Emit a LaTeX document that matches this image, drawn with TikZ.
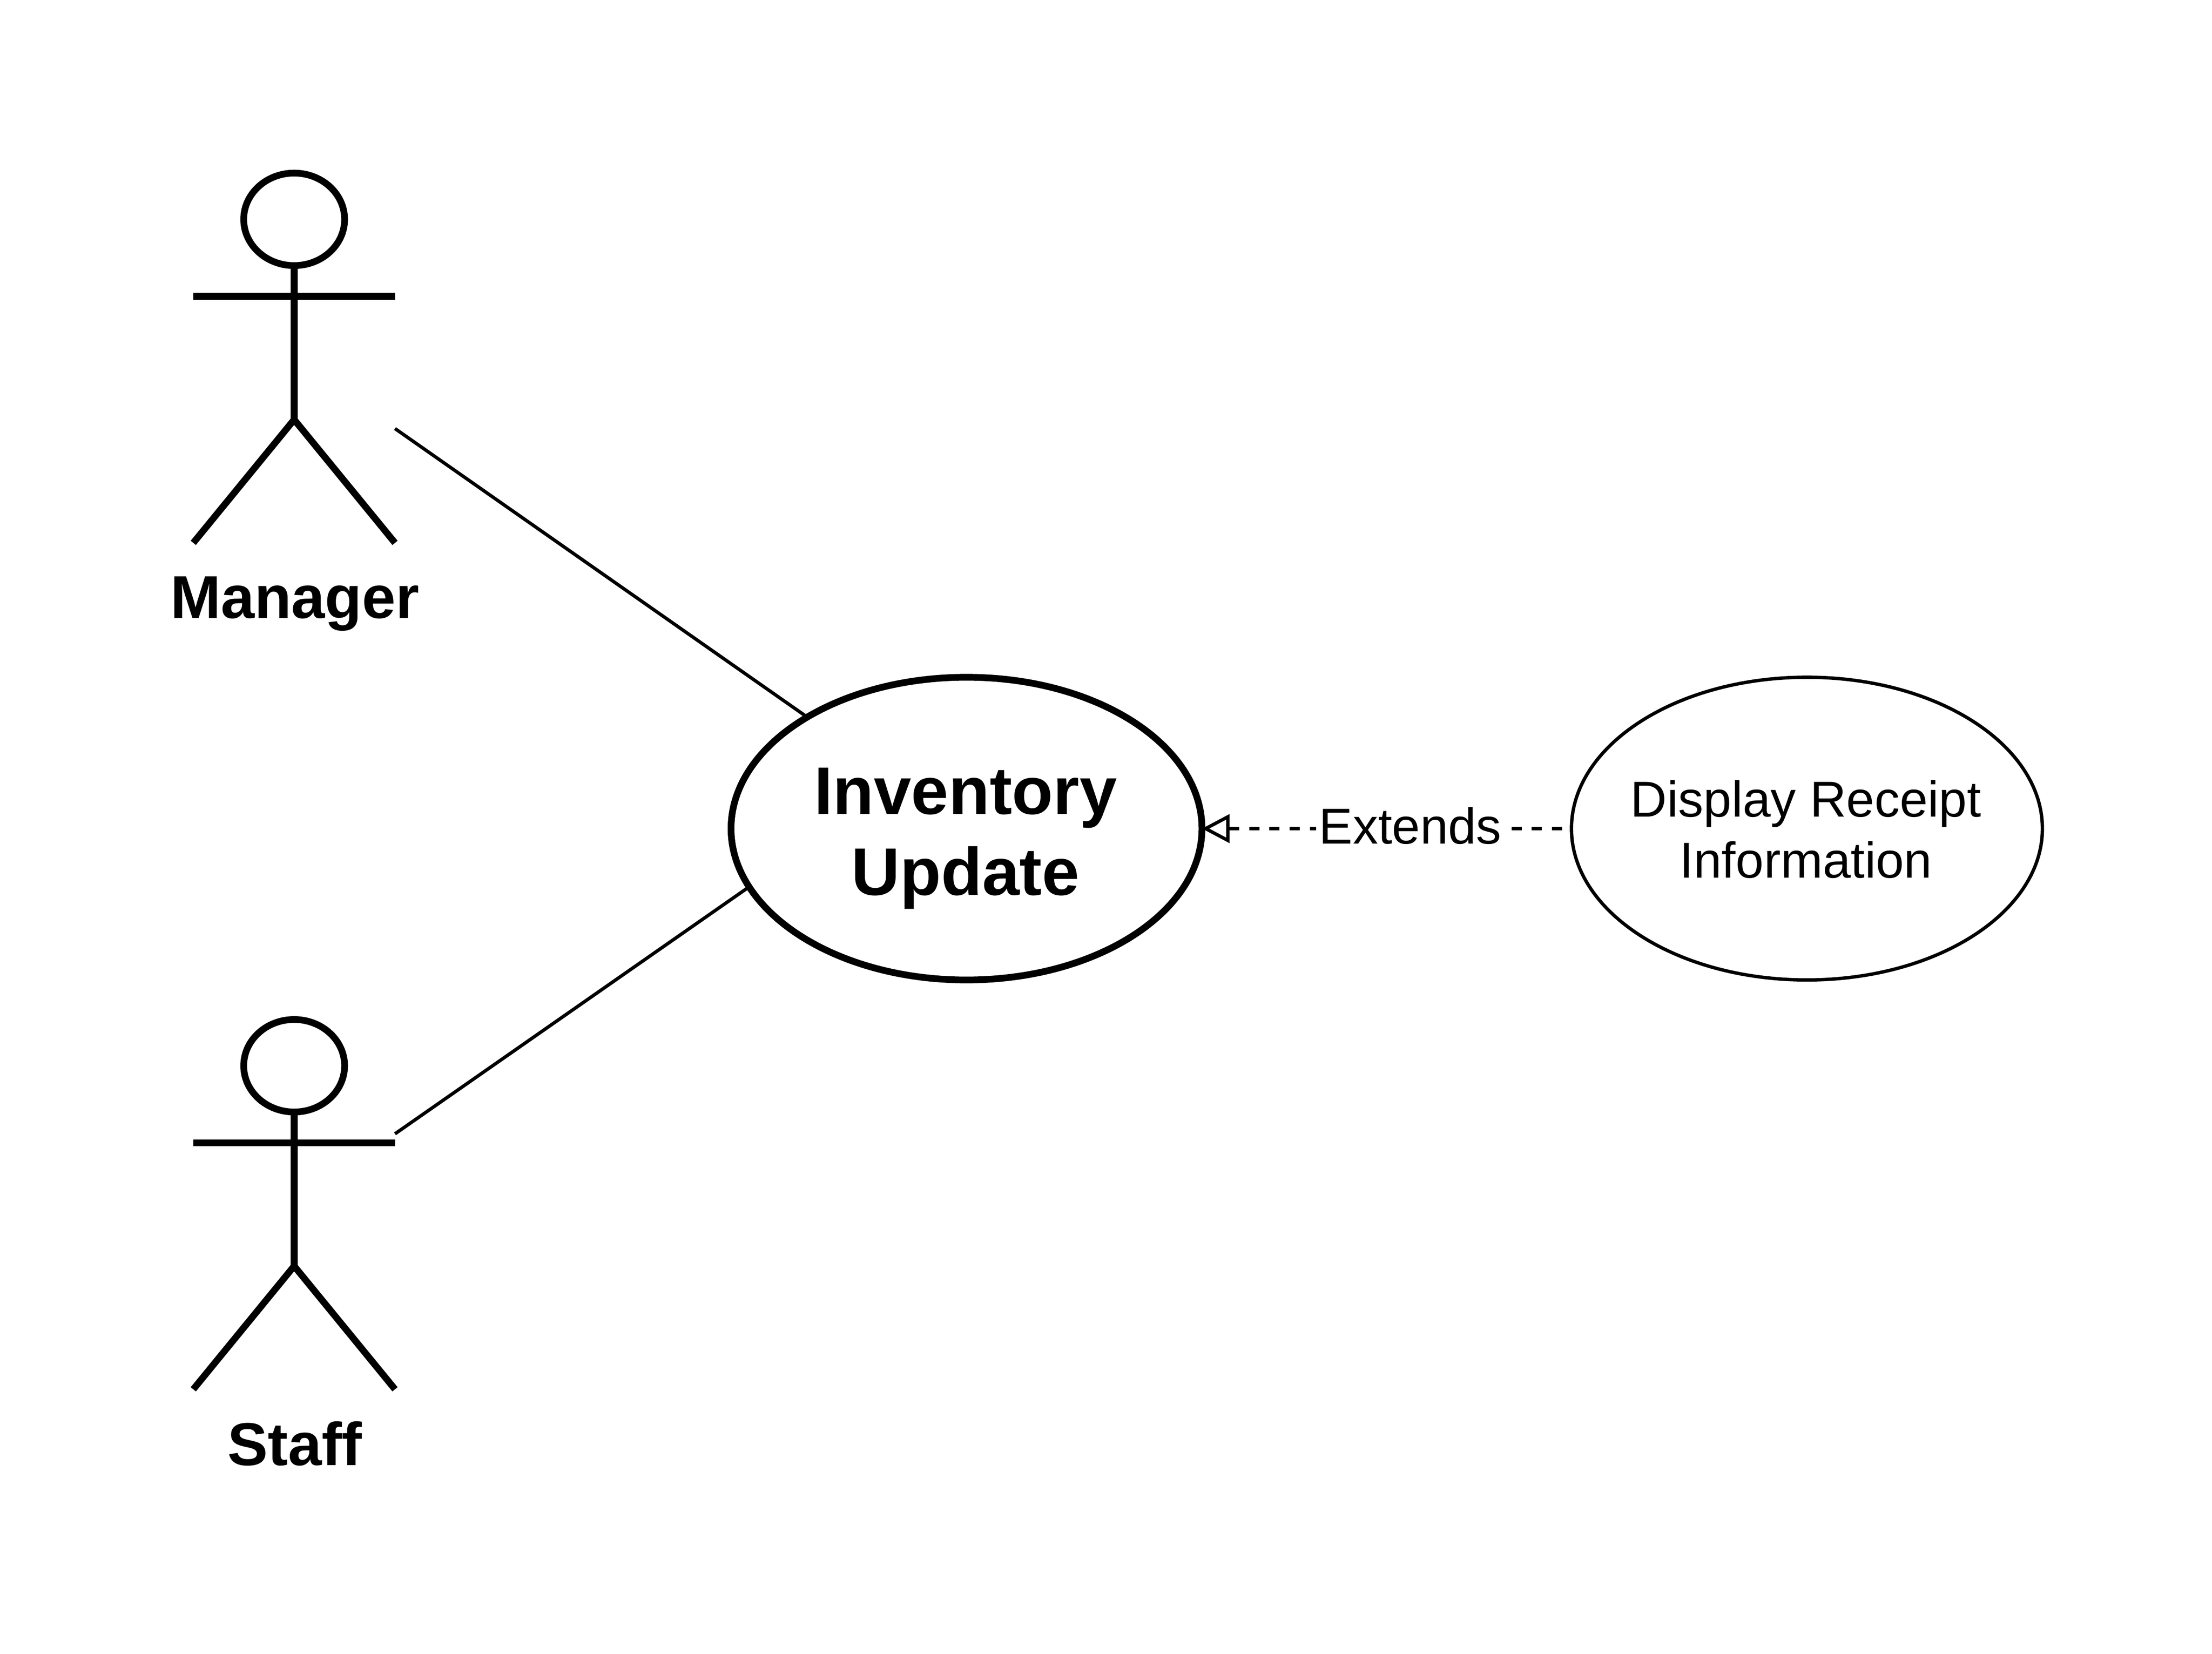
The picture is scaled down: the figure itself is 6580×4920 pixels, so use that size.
\documentclass[tikz,border=0pt]{standalone}
\usepackage{fontspec}
\setmainfont{Liberation Sans}
\usetikzlibrary{arrows.meta,shapes.geometric}
\newcommand{\caselabel}[3]{\makebox[0pt][c]{\smash{\raisebox{#1}{\begin{tabular}[t]{@{}c@{}}#2\\#3\end{tabular}}}}}
\tikzset{
  usecase/.style={ellipse,draw=black,fill=white,inner sep=0pt,outer sep=0pt,minimum width=14cm,minimum height=9cm},
  mainfont/.style={font=\fontsize{56.9}{68.6}\selectfont\bfseries},
  subfont/.style={font=\fontsize{42.68}{51.5}\selectfont},
  thickline/.style={line width=0.2cm,draw=black},
  thinline/.style={line width=0.1cm,draw=black},
  head/.style={ellipse,draw=black,line width=0.2cm,fill=white,inner sep=0pt,outer sep=0pt,minimum width=3cm,minimum height=2.75cm},
  actorname/.style={anchor=base,inner sep=0pt,font=\fontsize{51.2}{61}\selectfont\bfseries},
  extendline/.style={thinline,dash pattern=on 0.3cm off 0.3cm,dash phase=0.32cm,-{Triangle[open,length=0.82cm,width=0.84cm]}},
  extendlabel/.style={subfont,fill=white,inner xsep=0.09cm,inner ysep=0pt,text height=1.1cm,text depth=0.2cm}
}
\begin{document}
\begin{tikzpicture}[x=0.01cm,y=-0.01cm]
\useasboundingbox[fill=white] (0,0) rectangle (6580,4920);

% Manager actor
\node[head] (mgrHead) at (875,652.5) {};
\coordinate (mgrArmL) at (575,881.7);
\coordinate (mgrArmR) at (1175,881.7);
\coordinate (mgrHip) at (875,1248.3);
\coordinate (mgrLegL) at (575,1615);
\coordinate (mgrLegR) at (1175,1615);
\draw[thickline] (mgrHead.south) -- (mgrHip);
\draw[thickline] (mgrArmL) -- (mgrArmR);
\draw[thickline,miter limit=10] (mgrLegL) -- (mgrHip) -- (mgrLegR);
\node[actorname] (mgrName) at (877,1839) {Manager};

% Staff actor
\node[head] (stfHead) at (875,3170.5) {};
\coordinate (stfArmL) at (575,3399.7);
\coordinate (stfArmR) at (1175,3399.7);
\coordinate (stfHip) at (875,3766.3);
\coordinate (stfLegL) at (575,4133);
\coordinate (stfLegR) at (1175,4133);
\draw[thickline] (stfHead.south) -- (stfHip);
\draw[thickline] (stfArmL) -- (stfArmR);
\draw[thickline,miter limit=10] (stfLegL) -- (stfHip) -- (stfLegR);
\node[actorname] (stfName) at (877,4359) {Staff};

% Use cases
\node[usecase,line width=0.2cm,mainfont] (inv) at (2875,2465) {\caselabel{0.43cm}{\hspace*{-0.06cm}Inventory}{\hspace*{-0.06cm}Update}};
\node[usecase,line width=0.1cm,subfont] (disp) at (5375,2465) {\caselabel{0.35cm}{\hspace*{-0.06cm}Display Receipt}{\hspace*{-0.06cm}Information}};

% Connectors
\coordinate (mgrLink) at (1175,1275);
\coordinate (stfLink) at (1175,3373);
\draw[thinline] (mgrLink) -- (inv.145);
\draw[thinline] (stfLink) -- (inv.195.1);
\draw[extendline] (disp.west) -- node[extendlabel,pos=0.436] (ext) {Extends} (inv.east);
\end{tikzpicture}
\end{document}
